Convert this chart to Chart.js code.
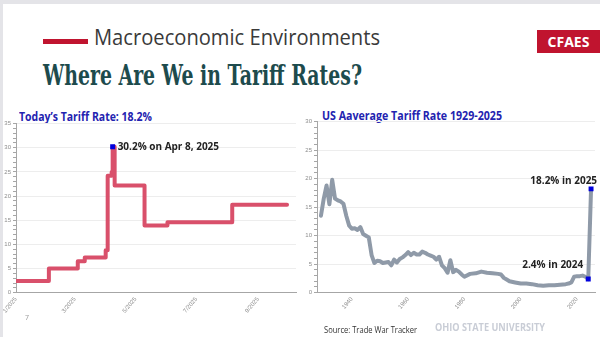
<!DOCTYPE html>
<html>
<head>
<meta charset="utf-8">
<script src="https://cdn.jsdelivr.net/npm/chart.js@4.4.1/dist/chart.umd.min.js"></script>
<style>
html, body { margin: 0; padding: 0; }
body { width: 600px; height: 337px; background: #e4e4e8; overflow: hidden; position: relative; font-family: "Open Sans", sans-serif; }
.slide { position: absolute; left: 3px; top: 4px; right: 0; bottom: 0; background: #fff; }
.abs { position: absolute; white-space: nowrap; line-height: 1; transform-origin: left center; }
.bar { position: absolute; left: 43px; top: 39px; width: 45px; height: 5px; background: #c0142f; }
.badge { position: absolute; left: 537px; top: 30px; width: 63px; height: 23px; background: #c0142f; color: #fff; font: 700 14px "Open Sans", sans-serif; line-height: 23px; text-align: center; }
.wrap { position: absolute; width: 300px; height: 200px; }
</style>
</head>
<body>
<div class="slide"></div>
<div class="bar"></div>
<div class="abs" id="kicker" style="left:94px;top:21px;font:500 22px 'Open Sans',sans-serif;color:#3a3a3a;">Macroeconomic Environments</div>
<div class="abs" id="headline" style="left:43px;top:60px;font:700 27px 'DejaVu Serif',serif;color:#1d4b4d;">Where Are We in Tariff Rates?</div>
<div class="badge">CFAES</div>
<div class="abs" id="titleL" style="left:19px;top:108px;font:700 12px 'Open Sans',sans-serif;color:#2323b0;">Today’s Tariff Rate: 18.2%</div>
<div class="abs" id="titleR" style="left:322px;top:107px;font:700 12px 'Open Sans',sans-serif;color:#2323b0;">US Aaverage Tariff Rate 1929-2025</div>
<div class="wrap" style="left:0;top:118px;"><canvas id="left" width="300" height="200"></canvas></div>
<div class="wrap" style="left:300px;top:116px;"><canvas id="right" width="300" height="200"></canvas></div>
<div class="abs" style="left:25px;top:313px;font:400 7px 'Open Sans',sans-serif;color:#999;">7</div>
<div class="abs" id="source" style="left:324px;top:323px;font:400 9.5px 'Open Sans',sans-serif;color:#333;">Source: Trade War Tracker</div>
<div class="abs" id="osu" style="left:435px;top:320px;font:700 10px 'Open Sans',sans-serif;color:#c9cdd6;">OHIO STATE UNIVERSITY</div>
<script>
// 2025 effective tariff rate, step changes (date the new rate starts)
const rateDates = ['2025-01-01', '2025-02-03', '2025-03-04', '2025-03-11', '2025-04-01', '2025-04-03',
  '2025-04-07', '2025-04-08', '2025-04-10', '2025-05-10', '2025-06-02', '2025-08-06', '2025-09-30'];
const rateValues = [2.4, 5.0, 6.5, 7.3, 8.8, 24.2, 25.0, 30.2, 22.2, 13.9, 14.6, 18.2, 18.2];
const peakDate = '2025-04-08';
const peakValue = 30.2;
const monthTicks = ['2025-01-01', '2025-03-01', '2025-05-01', '2025-07-01', '2025-09-01'];
const monthLabels = ['1/2025', '3/2025', '5/2025', '7/2025', '9/2025'];

// US average tariff rate by year
const tariffYears = [1929, 1930, 1931, 1932, 1933, 1934, 1935, 1936, 1937, 1938, 1939, 1940, 1941, 1942, 1943,
  1944, 1945, 1946, 1947, 1948, 1949, 1950, 1951, 1952, 1953, 1954, 1955, 1956, 1957, 1958, 1959, 1960, 1961,
  1962, 1963, 1964, 1965, 1966, 1967, 1968, 1969, 1970, 1971, 1972, 1973, 1974, 1975, 1976, 1977, 1978, 1979,
  1980, 1982, 1984, 1986, 1988, 1990, 1992, 1993, 1994, 1995, 1996, 1998, 2000, 2002, 2004, 2006, 2008, 2010,
  2012, 2014, 2016, 2017, 2018, 2019, 2020, 2021, 2022, 2023, 2024, 2025];
const tariffValues = [13.5, 16.5, 18.8, 15.5, 19.8, 16.5, 16.2, 16.0, 15.6, 13.5, 11.8, 11.2, 11.3, 11.0, 11.5,
  10.3, 10.0, 9.7, 6.6, 5.2, 5.6, 5.5, 5.2, 5.3, 5.4, 4.8, 5.8, 5.3, 5.9, 6.2, 6.6, 7.1, 6.6,
  7.0, 6.7, 6.7, 7.2, 7.0, 6.7, 6.5, 6.3, 5.8, 6.3, 4.8, 4.3, 3.5, 5.7, 3.6, 4.0, 3.7, 3.2,
  2.8, 3.3, 3.4, 3.7, 3.5, 3.4, 3.3, 3.2, 2.6, 2.3, 2.0, 1.8, 1.6, 1.6, 1.5, 1.3, 1.2, 1.3,
  1.3, 1.4, 1.5, 1.6, 1.8, 2.8, 2.9, 2.9, 3.0, 2.8, 2.4, 18.2];
const markYears = [2024, 2025];
const yearTicks = [1940, 1960, 1980, 2000, 2020];

const leftNotes = ['30.2% on Apr 8, 2025'];
const rightNotes = ['2.4% in 2024', '18.2% in 2025'];

const dayOf = s => (Date.UTC(+s.slice(0, 4), +s.slice(5, 7) - 1, +s.slice(8, 10)) - Date.UTC(2025, 0, 1)) / 864e5;

// squeeze html text to the width it has on the slide
function fitWidth(id, target) {
  const el = document.getElementById(id);
  el.style.transform = 'scaleX(' + (target / el.getBoundingClientRect().width) + ')';
}
fitWidth('kicker', 286);
fitWidth('headline', 319);
fitWidth('titleL', 133);
fitWidth('titleR', 180);
fitWidth('source', 93);
fitWidth('osu', 110);

const noteLabels = {
  id: 'noteLabels',
  afterDatasetsDraw(chart, args, opts) {
    const ctx = chart.ctx;
    const meta = chart.getDatasetMeta(0);
    ctx.save();
    ctx.font = '700 10px "Open Sans", sans-serif';
    ctx.fillStyle = '#222';
    ctx.textBaseline = 'middle';
    opts.notes.forEach(n => {
      const p = meta.data[n.index];
      ctx.textAlign = n.align;
      ctx.fillText(n.text, p.x + n.dx, p.y + n.dy);
    });
    ctx.restore();
  }
};

const tickFont = { family: 'Liberation Sans', size: 6 };
const minorGrid = ctx => (ctx.tick && ctx.tick.value % 5 === 0 && ctx.tick.value > 0) ? '#ededed' : 'rgba(0,0,0,0)';

function yAxis(max, width) {
  return {
    min: 0, max: max,
    ticks: { stepSize: 1, autoSkip: false, font: tickFont, color: '#8c8c8c', padding: 2,
      callback: v => v % 5 === 0 ? v : '' },
    grid: { color: minorGrid, tickColor: '#a6a6a6', tickLength: 3 },
    border: { color: '#a6a6a6' },
    afterFit: s => { s.width = width; }
  };
}

function xAxis(min, max, tickValues, labels, height) {
  return {
    type: 'linear', min: min, max: max,
    afterBuildTicks: s => { s.ticks = tickValues.map(v => ({ value: v })); },
    ticks: { autoSkip: false, font: tickFont, color: '#8c8c8c', minRotation: 50, maxRotation: 50, padding: 3,
      callback: (v, i) => labels[i] },
    grid: { display: false, drawTicks: false },
    border: { color: '#a6a6a6' },
    afterFit: s => { s.height = height; }
  };
}

new Chart(document.getElementById('left'), {
  type: 'line',
  data: {
    datasets: [
      { data: [{ x: dayOf(peakDate), y: peakValue }], showLine: false, pointStyle: 'rect', pointRadius: 3.5,
        backgroundColor: '#0000dd', borderWidth: 0, order: 0 },
      { data: rateDates.map((d, i) => ({ x: dayOf(d), y: rateValues[i] })), stepped: true,
        borderColor: '#d9506b', borderWidth: 4, pointRadius: 0, borderJoinStyle: 'round', borderCapStyle: 'round', order: 1 }
    ]
  },
  options: {
    responsive: false, animation: false,
    layout: { padding: { top: 5.3, right: 0, left: 0, bottom: 0 } },
    plugins: { legend: { display: false }, tooltip: { enabled: false },
      noteLabels: { notes: [{ index: 0, text: leftNotes[0], align: 'left', dx: 5, dy: 0 }] } },
    scales: {
      x: xAxis(0, 281, monthTicks.map(dayOf), monthLabels, 25.3),
      y: yAxis(35, 16)
    }
  },
  plugins: [noteLabels]
});

new Chart(document.getElementById('right'), {
  type: 'line',
  data: {
    datasets: [
      { data: markYears.map(y => ({ x: y, y: tariffValues[tariffYears.indexOf(y)] })), showLine: false,
        pointStyle: 'rect', pointRadius: 3.5, backgroundColor: '#0000dd', borderWidth: 0, order: 0 },
      { data: tariffYears.map((y, i) => ({ x: y, y: tariffValues[i] })),
        borderColor: '#8f9aa8', borderWidth: 4, pointRadius: 0, tension: 0, borderJoinStyle: 'round', borderCapStyle: 'round', order: 1 }
    ]
  },
  options: {
    responsive: false, animation: false,
    layout: { padding: { top: 4.7, right: 5, left: 0, bottom: 0 } },
    plugins: { legend: { display: false }, tooltip: { enabled: false },
      noteLabels: { notes: [
        { index: 0, text: rightNotes[0], align: 'right', dx: -5, dy: -14 },
        { index: 1, text: rightNotes[1], align: 'right', dx: 6, dy: -8 }
      ] } },
    scales: {
      x: xAxis(1927.6, 2026.4, yearTicks, yearTicks.map(String), 23.3),
      y: yAxis(30, 17)
    }
  },
  plugins: [noteLabels]
});
</script>
</body>
</html>
